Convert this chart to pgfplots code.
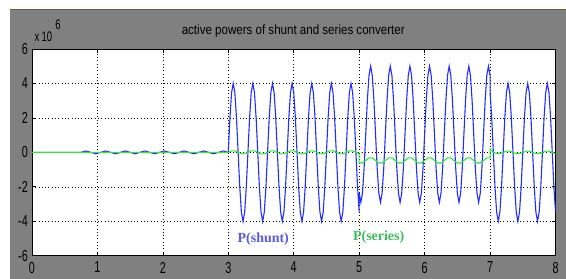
\documentclass[border=0pt]{standalone}
\usepackage{pgfplots}
\pgfplotsset{compat=1.18}
\usepackage{pgfplotstable}
\usepackage{fontspec}
\setmainfont{Liberation Sans}
\newfontfamily\tickfont[FakeStretch=0.68]{Liberation Sans}
\newfontfamily\titlefont[FakeStretch=0.86]{Liberation Sans}
\newfontfamily\serifb{Liberation Serif}
\definecolor{figgray}{RGB}{128,128,128}
\definecolor{topline}{RGB}{120,90,50}
\definecolor{pblue}{RGB}{35,45,255}
\definecolor{pgreen}{RGB}{45,235,45}
\definecolor{lblue}{RGB}{90,90,230}
\definecolor{lgreen}{RGB}{60,190,90}

\pgfplotstableread{
t p
0 0
0.750 0
0.825 0.08
0.900 0
0.975 -0.08
1.050 0
1.125 0.08
1.200 0
1.275 -0.08
1.350 0
1.425 0.08
1.500 0
1.575 -0.08
1.650 0
1.725 0.08
1.800 0
1.875 -0.08
1.950 0
2.025 0.08
2.100 0
2.175 -0.08
2.250 0
2.325 0.08
2.400 0
2.475 -0.08
2.550 0
2.625 0.08
2.700 0
2.775 -0.08
2.850 0
2.925 0.08
3.000 0
3.025 2
3.050 3.464
3.075 4
3.100 3.464
3.125 2
3.150 0
3.175 -2
3.200 -3.464
3.225 -4
3.250 -3.464
3.275 -2
3.300 0
3.325 2
3.350 3.464
3.375 4
3.400 3.464
3.425 2
3.450 0
3.475 -2
3.500 -3.464
3.525 -4
3.550 -3.464
3.575 -2
3.600 0
3.625 2
3.650 3.464
3.675 4
3.700 3.464
3.725 2
3.750 0
3.775 -2
3.800 -3.464
3.825 -4
3.850 -3.464
3.875 -2
3.900 0
3.925 2
3.950 3.464
3.975 4
4.000 3.464
4.025 2
4.050 0
4.075 -2
4.100 -3.464
4.125 -4
4.150 -3.464
4.175 -2
4.200 0
4.225 2
4.250 3.464
4.275 4
4.300 3.464
4.325 2
4.350 0
4.375 -2
4.400 -3.464
4.425 -4
4.450 -3.464
4.475 -2
4.500 0
4.525 2
4.550 3.464
4.575 4
4.600 3.464
4.625 2
4.650 0
4.675 -2
4.700 -3.464
4.725 -4
4.750 -3.464
4.775 -2
4.800 0
4.825 2
4.850 3.464
4.875 4
4.900 3.464
4.925 2
4.950 0
4.975 -2
5.000 -3.464
5.000 -2.37
5.025 -2.9
5.050 -2.37
5.075 -0.925
5.100 1.05
5.125 3.025
5.150 4.47
5.175 5
5.200 4.47
5.225 3.025
5.250 1.05
5.275 -0.925
5.300 -2.37
5.325 -2.9
5.350 -2.37
5.375 -0.925
5.400 1.05
5.425 3.025
5.450 4.47
5.475 5
5.500 4.47
5.525 3.025
5.550 1.05
5.575 -0.925
5.600 -2.37
5.625 -2.9
5.650 -2.37
5.675 -0.925
5.700 1.05
5.725 3.025
5.750 4.47
5.775 5
5.800 4.47
5.825 3.025
5.850 1.05
5.875 -0.925
5.900 -2.37
5.925 -2.9
5.950 -2.37
5.975 -0.925
6.000 1.05
6.025 3.025
6.050 4.47
6.075 5
6.100 4.47
6.125 3.025
6.150 1.05
6.175 -0.925
6.200 -2.37
6.225 -2.9
6.250 -2.37
6.275 -0.925
6.300 1.05
6.325 3.025
6.350 4.47
6.375 5
6.400 4.47
6.425 3.025
6.450 1.05
6.475 -0.925
6.500 -2.37
6.525 -2.9
6.550 -2.37
6.575 -0.925
6.600 1.05
6.625 3.025
6.650 4.47
6.675 5
6.700 4.47
6.725 3.025
6.750 1.05
6.775 -0.925
6.800 -2.37
6.825 -2.9
6.850 -2.37
6.875 -0.925
6.900 1.05
6.925 3.025
6.950 4.47
6.975 5
7.000 4.47
7.000 3.464
7.025 2
7.050 0
7.075 -2
7.100 -3.464
7.125 -4
7.150 -3.464
7.175 -2
7.200 0
7.225 2
7.250 3.464
7.275 4
7.300 3.464
7.325 2
7.350 0
7.375 -2
7.400 -3.464
7.425 -4
7.450 -3.464
7.475 -2
7.500 0
7.525 2
7.550 3.464
7.575 4
7.600 3.464
7.625 2
7.650 0
7.675 -2
7.700 -3.464
7.725 -4
7.750 -3.464
7.775 -2
7.800 0
7.825 2
7.850 3.464
7.875 4
7.900 3.464
7.925 2
7.950 0
7.975 -2
8.000 -3.464
}\shunt

\pgfplotstableread{
t p
0 0
3.00 0
3.05 0.087
3.10 0.087
3.15 0
3.20 -0.087
3.25 -0.087
3.30 0
3.35 0.087
3.40 0.087
3.45 0
3.50 -0.087
3.55 -0.087
3.60 0
3.65 0.087
3.70 0.087
3.75 0
3.80 -0.087
3.85 -0.087
3.90 0
3.95 0.087
4.00 0.087
4.05 0
4.10 -0.087
4.15 -0.087
4.20 0
4.25 0.087
4.30 0.087
4.35 0
4.40 -0.087
4.45 -0.087
4.50 0
4.55 0.087
4.60 0.087
4.65 0
4.70 -0.087
4.75 -0.087
4.80 0
4.85 0.087
4.90 0.087
4.95 0
5.00 -0.087
5.00 -0.617
5.05 -0.617
5.10 -0.47
5.15 -0.323
5.20 -0.323
5.25 -0.47
5.30 -0.617
5.35 -0.617
5.40 -0.47
5.45 -0.323
5.50 -0.323
5.55 -0.47
5.60 -0.617
5.65 -0.617
5.70 -0.47
5.75 -0.323
5.80 -0.323
5.85 -0.47
5.90 -0.617
5.95 -0.617
6.00 -0.47
6.05 -0.323
6.10 -0.323
6.15 -0.47
6.20 -0.617
6.25 -0.617
6.30 -0.47
6.35 -0.323
6.40 -0.323
6.45 -0.47
6.50 -0.617
6.55 -0.617
6.60 -0.47
6.65 -0.323
6.70 -0.323
6.75 -0.47
6.80 -0.617
6.85 -0.617
6.90 -0.47
6.95 -0.323
7.00 -0.323
7.00 0.2
7.05 0
7.10 -0.07
7.15 -0.07
7.20 0
7.25 0.07
7.30 0.07
7.35 0
7.40 -0.07
7.45 -0.07
7.50 0
7.55 0.07
7.60 0.07
7.65 0
7.70 -0.07
7.75 -0.07
7.80 0
7.85 0.07
7.90 0.07
7.95 0
8.00 -0.07
}\series

\begin{document}
\begin{tikzpicture}[x=1bp,y=1bp]
\fill[white] (-32,-23) rectangle (534,256);
\fill[figgray] (-22,-23) rectangle (534,246);
\draw[topline, line width=1bp] (-22,246) -- (534,246);
\begin{axis}[
  scale only axis, width=524bp, height=207bp,
  at={(0,0)}, anchor=south west,
  xmin=0, xmax=8, ymin=-6, ymax=6,
  xtick={0,1,2,3,4,5,6,7,8},
  xticklabels={0,1,2,3,4,5,6,7,8},
  ytick={-6,-4,-2,0,2,4,6},
  yticklabels={-6,-4,-2,0,2,4,6},
  ticklabel style={font=\tickfont\fontsize{16}{16}\selectfont, text=black},
  yticklabel style={inner sep=0pt, xshift=-4bp},
  xticklabel style={inner sep=0pt, yshift=-6bp},
  axis background/.style={fill=white},
  grid=major,
  grid style={black, line width=0.6bp, dash pattern=on 0.9bp off 2.4bp},
  tick align=inside,
  major tick length=4bp,
  tick style={black, line width=0.7bp},
  axis line style={black, line width=0.9bp},
]
\addplot[pblue, line width=1.1bp] table[x=t, y=p] {\shunt};
\addplot[pgreen, line width=1.1bp] table[x=t, y=p] {\series};
\end{axis}
\node[anchor=base, font=\titlefont\fontsize{13.5}{13.5}\selectfont] at (261.5,221.5) {active powers of shunt and series converter};
\node[anchor=base, font=\tickfont\fontsize{14}{14}\selectfont] at (11.5,214) {x\,10};
\node[anchor=base, font=\tickfont\fontsize{14}{14}\selectfont] at (26,226) {6};
\node[font=\serifb\bfseries\fontsize{14}{14}\selectfont, text=lblue] at (231.5,17) {P(shunt)};
\node[font=\serifb\bfseries\fontsize{14}{14}\selectfont, text=lgreen] at (347,19) {P(series)};
\end{tikzpicture}
\end{document}
